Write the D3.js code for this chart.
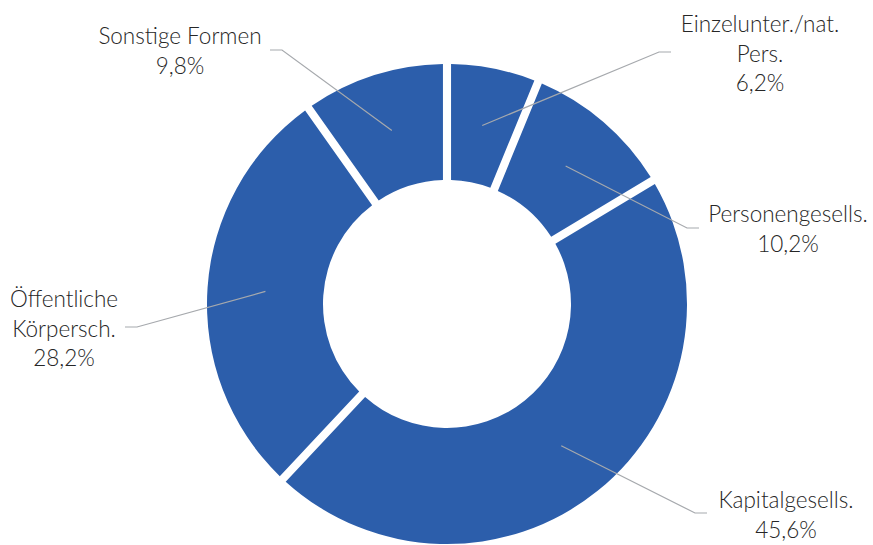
<!DOCTYPE html>
<html>
<head>
<meta charset="utf-8">
<script src="https://cdn.jsdelivr.net/npm/d3@7"></script>
<style>
  body { margin: 0; background: #fff; }
  svg text { font-family: Lato, "Source Sans Pro", sans-serif; font-weight: 300; fill: #262626; }
</style>
</head>
<body>
<svg id="chart"></svg>
<script>
// data
const categories = ['Einzelunter./nat. Pers.', 'Personengesells.', 'Kapitalgesells.', 'Öffentliche Körpersch.', 'Sonstige Formen'];
const shares = [6.2, 10.2, 45.6, 28.2, 9.8];
const labelLines = [
  ['Einzelunter./nat.', 'Pers.', '6,2%'],
  ['Personengesells.', '10,2%'],
  ['Kapitalgesells.', '45,6%'],
  ['Öffentliche', 'Körpersch.', '28,2%'],
  ['Sonstige Formen', '9,8%']
];

// label layout (elbow of leader line, text anchor point, first baseline)
const labelLayout = [
  {elbow: [659, 52], end: [671, 52], tx: 760, ty: 32},
  {elbow: [687, 228], end: [699, 228], tx: 788, ty: 222},
  {elbow: [695, 513], end: [707, 513], tx: 786, ty: 508},
  {elbow: [137, 327], end: [125, 327], tx: 64, ty: 307},
  {elbow: [282, 50], end: [270, 50], tx: 180, ty: 44}
];

const width = 873, height = 545;
const cx = 447, cy = 304;
const outerR = 240, innerR = 124;
const lineH = 29.5;

const svg = d3.select('#chart')
  .attr('width', width)
  .attr('height', height);

const data = categories.map((c, i) => ({name: c, value: shares[i], lines: labelLines[i], pos: labelLayout[i]}));

const pie = d3.pie()
  .sort(null)
  .value(d => d.value);

const arc = d3.arc()
  .innerRadius(innerR)
  .outerRadius(outerR)
  .padAngle(0.03);

const midArc = d3.arc()
  .innerRadius((innerR + outerR) / 2)
  .outerRadius((innerR + outerR) / 2);

const g = svg.append('g')
  .attr('transform', `translate(${cx},${cy})`);

const arcs = pie(data);

g.selectAll('.slice')
  .data(arcs)
  .join('path')
    .attr('class', 'slice')
    .attr('d', arc)
    .style('fill', '#2c5eab');

// leader lines
svg.selectAll('.leader')
  .data(arcs)
  .join('polyline')
    .attr('class', 'leader')
    .attr('points', d => {
      const c = midArc.centroid(d);
      return [[c[0] + cx, c[1] + cy], d.data.pos.elbow, d.data.pos.end].map(p => p.join(',')).join(' ');
    })
    .style('fill', 'none')
    .style('stroke', '#a6a9ad')
    .style('stroke-width', 1.2);

// labels
const labels = svg.selectAll('.label')
  .data(arcs)
  .join('text')
    .attr('class', 'label')
    .attr('text-anchor', 'middle')
    .attr('font-size', '22.5px');

labels.selectAll('tspan')
  .data(d => d.data.lines.map(t => ({t, pos: d.data.pos})))
  .join('tspan')
    .attr('x', d => d.pos.tx)
    .attr('y', (d, i) => d.pos.ty + i * lineH)
    .text(d => d.t);
</script>
</body>
</html>
